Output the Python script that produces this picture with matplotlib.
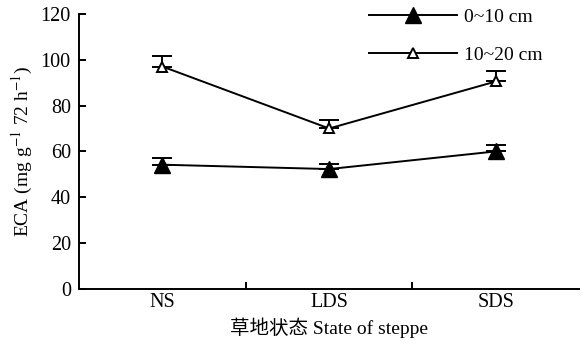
import matplotlib
matplotlib.use('Agg')
import matplotlib.pyplot as plt

plt.rcParams['font.family'] = ['Liberation Serif', 'Noto Sans CJK SC']
plt.rcParams['mathtext.fontset'] = 'stix'

states = ['NS', 'LDS', 'SDS']
eca_0_10 = [54.2, 52.3, 60.0]
err_0_10 = [3.0, 2.0, 3.0]
eca_10_20 = [97.0, 70.0, 90.5]
err_10_20 = [4.7, 3.5, 4.5]
yticks = [0, 20, 40, 60, 80, 100, 120]

fig = plt.figure(figsize=(5.82, 3.55), dpi=100)
ax = fig.add_axes([0.136, 0.186, 0.859, 0.775])

x = [i + 0.5 for i in range(len(states))]

ax.errorbar(x, eca_0_10, yerr=[[0] * 3, err_0_10], color='black', lw=1.4,
            marker='^', ms=11, mfc='black', mec='black', capsize=7, capthick=1.4,
            elinewidth=1.4, label='0~10 cm')
ax.errorbar(x, eca_10_20, yerr=[[0] * 3, err_10_20], color='black', lw=1.4,
            marker='^', ms=7, mfc='white', mec='black', mew=1.4, capsize=7,
            capthick=1.4, elinewidth=1.4, label='10~20 cm')

ax.set_xlim(0, 3)
ax.set_ylim(0, 120)
ax.set_yticks(yticks)
ax.set_xticks([1, 2])
ax.set_xticklabels(['', ''])
ax.set_xticks(x, minor=True)
ax.set_xticklabels(states, minor=True)
ax.tick_params(axis='x', which='minor', length=0, pad=3, labelsize=14.5)
ax.tick_params(axis='x', which='major', direction='in', length=5, width=1.4)
ax.tick_params(axis='y', direction='in', length=5, width=1.4, labelsize=14.5, pad=6)

for s in ['top', 'right']:
    ax.spines[s].set_visible(False)
for s in ['left', 'bottom']:
    ax.spines[s].set_linewidth(1.4)

ax.set_ylabel('ECA (mg g$^{-1}$ 72 h$^{-1}$)', fontsize=14)
ax.set_xlabel('草地状态 State of steppe', fontsize=14, labelpad=4)

handles, labels = ax.get_legend_handles_labels()
handles = [h[0] for h in handles]
ax.legend(handles, labels, loc='upper left', bbox_to_anchor=(0.545, 1.085),
          frameon=False, fontsize=14, handlelength=4.5, handletextpad=0.4,
          labelspacing=1.05)

fig.savefig('out.png', dpi=100)
